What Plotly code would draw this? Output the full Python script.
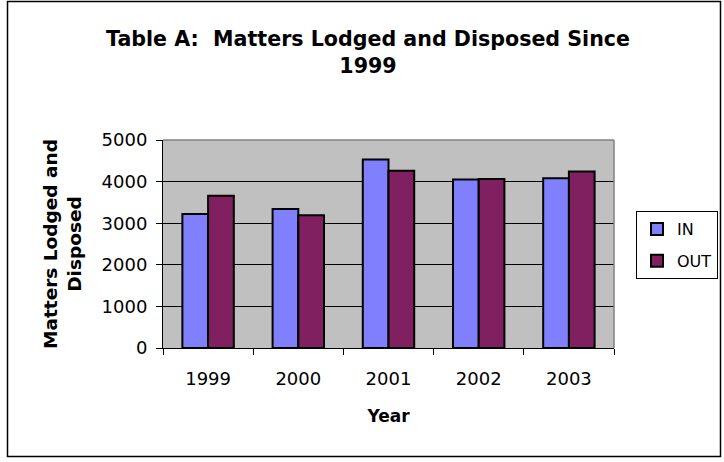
import plotly.graph_objects as go

# Matters lodged (IN) and disposed (OUT) per year
years = ["1999", "2000", "2001", "2002", "2003"]
matters_in = [3220, 3340, 4530, 4050, 4080]
matters_out = [3660, 3190, 4260, 4060, 4240]

W, H = 724, 462
L, R, T, B = 163, 110, 140, 114  # plot area: x 163..614, y 140..348
PW, PH = W - L - R, H - T - B


def px_x(px):
    return (px - L) / PW


def px_y(py):
    return (H - B - py) / PH


FONT = "DejaVu Sans, Liberation Sans, Arial, sans-serif"

fig = go.Figure()
fig.add_trace(go.Bar(
    name="IN", x=years, y=matters_in, legendgroup="in",
    marker=dict(color="#8080ff", line=dict(color="black", width=2)),
))
fig.add_trace(go.Bar(
    name="OUT", x=years, y=matters_out, legendgroup="out",
    marker=dict(color="#802060", line=dict(color="black", width=2)),
))

fig.update_layout(
    width=W, height=H,
    margin=dict(l=L, r=R, t=T, b=B, autoexpand=False),
    paper_bgcolor="white",
    plot_bgcolor="#c0c0c0",
    barmode="group",
    bargap=0.43,
    bargroupgap=0,
    font=dict(family=FONT, color="black", size=17),
    title=dict(
        text="<b>Table A:  Matters Lodged and Disposed Since<br>1999</b>",
        xref="container", x=368 / W, xanchor="center",
        yref="container", y=1 - 46 / H, yanchor="top",
        font=dict(family=FONT, size=20.6, color="black"),
    ),
    showlegend=True,
    legend=dict(
        x=px_x(636), y=px_y(211), xanchor="left", yanchor="top",
        bordercolor="black", borderwidth=1, bgcolor="white",
        font=dict(family=FONT, size=16),
        traceorder="grouped", tracegroupgap=8,
        itemwidth=30,
    ),
    xaxis=dict(
        type="category",
        showline=True, linecolor="black", linewidth=1,
        ticks="outside", tickson="boundaries", ticklen=6, tickcolor="black",
        tickfont=dict(family=FONT, size=18),
        ticklabelstandoff=14,
        showgrid=False,
        title=dict(text="<b>Year</b>", font=dict(family=FONT, size=17), standoff=22),
    ),
    yaxis=dict(
        range=[0, 5000], dtick=1000,
        showline=True, linecolor="black", linewidth=1,
        ticks="outside", ticklen=6, tickcolor="black",
        tickfont=dict(family=FONT, size=18),
        ticklabelstandoff=5,
        showgrid=True, gridcolor="black", gridwidth=1,
        zeroline=False,
        title=dict(text="<b>Matters Lodged and<br>Disposed</b>",
                   font=dict(family=FONT, size=18.5), standoff=15),
    ),
    shapes=[
        # grey plot-area frame on top and right
        dict(type="line", xref="paper", yref="paper", x0=0, x1=1, y0=1, y1=1,
             line=dict(color="#808080", width=1.5), layer="above"),
        dict(type="line", xref="paper", yref="paper", x0=1, x1=1, y0=0, y1=1,
             line=dict(color="#808080", width=1.5), layer="above"),
        # outer chart border
        dict(type="rect", xref="paper", yref="paper",
             x0=px_x(7.5), x1=px_x(720.5), y0=px_y(456.5), y1=px_y(1.5),
             line=dict(color="black", width=1.5), fillcolor="rgba(0,0,0,0)"),
    ],
)

fig.write_html("out.html")
